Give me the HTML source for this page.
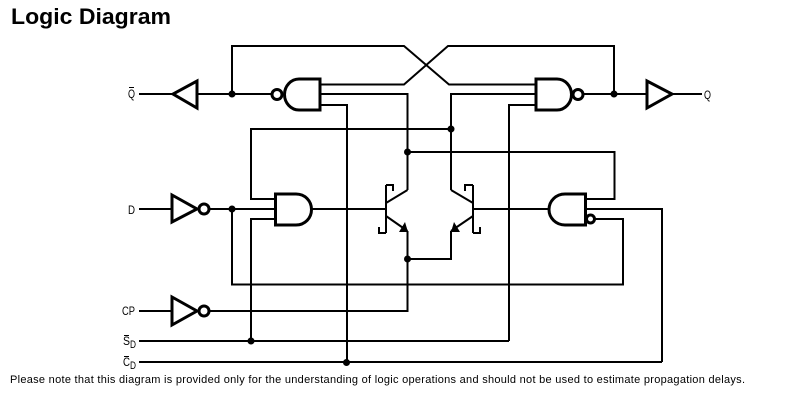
<!DOCTYPE html>
<html><head><meta charset="utf-8"><style>
html,body{margin:0;padding:0;background:#fff}
svg{display:block}
text{font-family:"Liberation Sans",sans-serif;fill:#000}
</style></head><body>
<svg width="801" height="405" viewBox="0 0 801 405" xmlns="http://www.w3.org/2000/svg">
<rect width="801" height="405" fill="#fff"/>
<text x="11" y="24" font-size="22" font-weight="bold" textLength="160" lengthAdjust="spacingAndGlyphs">Logic Diagram</text>
<text x="10" y="383" font-size="11" textLength="735" lengthAdjust="spacing">Please note that this diagram is provided only for the understanding of logic operations and should not be used to estimate propagation delays.</text>

<g fill="none" stroke="#000" stroke-width="2">
<path d="M139 94H173M197 94H272M232 94V46H404L449 84.500H535"/>
<path d="M320 84.500H404L448 46H614V94M584 94H647M672 94H702"/>
<path d="M320 94H407.500V190M320 105H347V362"/>
<path d="M275 199H251V129H451M535 94H451V190M535 105H509V341"/>
<path d="M407.500 152H614.500V199H586"/>
<path d="M139 209H172M209 209H275M232 209V284.500H623V219H595M275 219H251V341"/>
<path d="M312 209H386M473 209H549M586 209H662V362"/>
<path d="M139 311H172M209 311H407.500V231M407.500 259H451V231"/>
<path d="M139 341H509M139 362H662"/>
</g>

<g fill="#fff" stroke="#000" stroke-width="3" stroke-linejoin="miter">
<path d="M197 81V108L173 94Z"/>
<path d="M647 81V108L672 94Z"/>
<path d="M172 195V222L197 209Z"/>
<path d="M172 297V325L197 311Z"/>
<circle cx="277" cy="94.500" r="5"/>
<circle cx="578" cy="94.500" r="5"/>
<circle cx="204" cy="209" r="5"/>
<circle cx="204" cy="311" r="5"/>
<circle cx="590.500" cy="219" r="4"/>
<path d="M320 79V110H299C291 110 284.500 103 284.500 94.500C284.500 86 291 79 299 79Z"/>
<path d="M536 79V110H557C565 110 571.500 103 571.500 94.500C571.500 86 565 79 557 79Z"/>
<path d="M275.500 194V225H296C305 225 311.500 218 311.500 209.500C311.500 201 305 194 296 194Z"/>
<path d="M585.500 194V225H565C556 225 549 218 549 209.500C549 201 556 194 565 194Z"/>
</g>

<g fill="none" stroke="#000" stroke-width="2">
<path d="M386 185V233M386 185H393V191M386 233H379V227M386 203L407.500 190M386 216L407.500 231"/>
<path d="M473 185V233M473 185H465V191M473 233H480V227M473 203L451 190M473 216L451 231"/>
</g>
<g fill="#000">
<path d="M408 232H399L405 222Z"/>
<path d="M451 232H460L454 222Z"/>
<circle cx="232" cy="94" r="3.500"/>
<circle cx="614" cy="94" r="3.500"/>
<circle cx="451" cy="129" r="3.500"/>
<circle cx="407.500" cy="152" r="3.500"/>
<circle cx="232" cy="209" r="3.500"/>
<circle cx="407.500" cy="259" r="3.500"/>
<circle cx="251" cy="341" r="3.500"/>
<circle cx="346.500" cy="362.500" r="3.500"/>
</g>

<g font-size="12">
<text x="128" y="98" textLength="7" lengthAdjust="spacingAndGlyphs">Q</text>
<text x="704" y="99" textLength="7" lengthAdjust="spacingAndGlyphs">Q</text>
<text x="128" y="214" textLength="7" lengthAdjust="spacingAndGlyphs">D</text>
<text x="122" y="315" textLength="13" lengthAdjust="spacingAndGlyphs">CP</text>
<text x="123" y="345" textLength="7" lengthAdjust="spacingAndGlyphs">S</text>
<text x="130" y="348" font-size="11" textLength="6" lengthAdjust="spacingAndGlyphs">D</text>
<text x="123" y="366" textLength="7" lengthAdjust="spacingAndGlyphs">C</text>
<text x="130" y="369" font-size="11" textLength="6" lengthAdjust="spacingAndGlyphs">D</text>
</g>
<g stroke="#000" stroke-width="1" fill="none">
<path d="M129 87.500H134M124 335.500H129M124 356.500H129"/>
</g>
</svg>
</body></html>
